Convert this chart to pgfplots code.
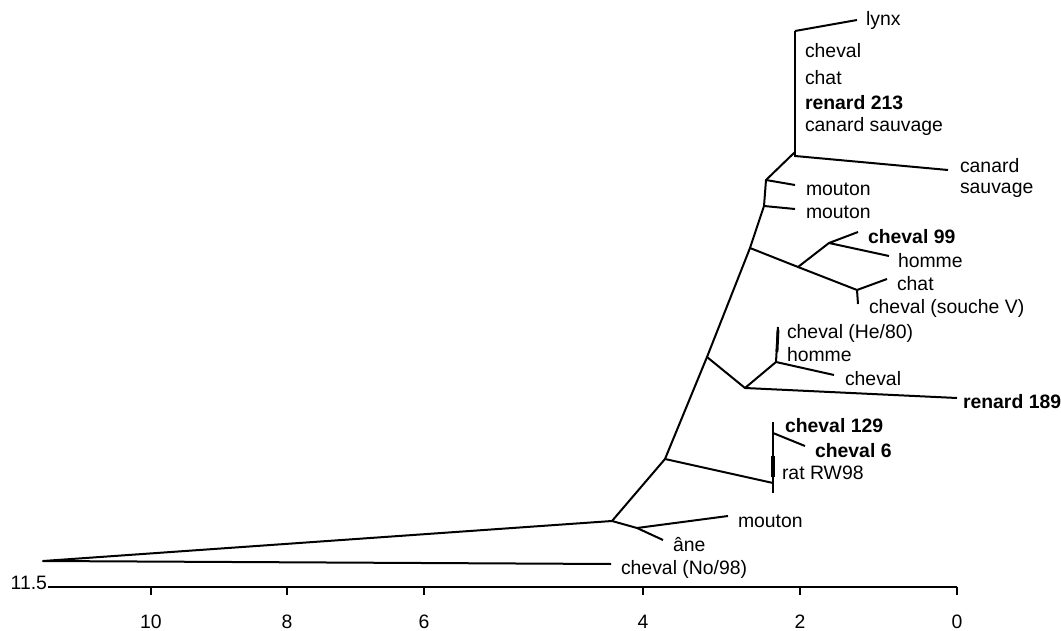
\documentclass[border=0pt]{standalone}
\usepackage{fontspec}
\setmainfont{Liberation Sans}
\usepackage{pgfplots}
\pgfplotsset{compat=1.18}
\tikzset{br/.style={black, line width=1pt, line join=round},
  lab/.style={font=\fontsize{9.7}{11.6}\selectfont, inner sep=0pt, outer sep=0pt, anchor=base west},
  blab/.style={lab, font=\fontsize{9.7}{11.6}\selectfont\bfseries}}
\begin{document}
\begin{tikzpicture}
\useasboundingbox (0,0) rectangle (530.5pt,315.5pt);
\begin{axis}[at={(0,0)}, anchor=south west, scale only axis,
  width=530.5pt, height=315.5pt,
  xmin=0, xmax=1061, ymin=0, ymax=631, y dir=reverse,
  hide axis, clip=false]
% trunk
\addplot[br] coordinates {(611,564) (43,561) (612,521) (665,459) (707,357) (750,248) (764,206) (766,180) (795,152)};
% top cluster
\addplot[black, line width=1.4pt] coordinates {(795,31) (795,157)};
\addplot[br] coordinates {(795,156) (948,170)};
\addplot[br] coordinates {(795,31) (857,20)};
\addplot[br] coordinates {(766,180) (795,185)};
\addplot[br] coordinates {(764,206) (795,209)};
% cheval 99 / homme / chat / souche V
\addplot[br] coordinates {(750,248) (798,267) (857,290)};
\addplot[br] coordinates {(798,267) (829,243)};
\addplot[br] coordinates {(858,232) (829,243) (889,256)};
\addplot[br] coordinates {(887,279) (857,290) (858,304)};
% He/80 cluster
\addplot[br] coordinates {(707,357) (745,388) (957,398)};
\addplot[br] coordinates {(745,388) (776,362) (834,375)};
\addplot[br] coordinates {(776,362) (778,327)};
\addplot[black, line width=1.4pt] coordinates {(778,330) (777,352)};
% cheval 129 cluster
\addplot[br] coordinates {(665,459) (773,483)};
\addplot[br] coordinates {(773,422) (773,493)};
\addplot[black, line width=1.6pt] coordinates {(773,456) (773,477)};
\addplot[br] coordinates {(773,433) (805,446)};
% mouton / ane
\addplot[br] coordinates {(612,521) (637,528) (728,516)};
\addplot[br] coordinates {(637,528) (663,540)};
% scale bar
\addplot[br] coordinates {(48,587) (957,587)};
\addplot[br] coordinates {(151,587) (151,595)};
\addplot[br] coordinates {(287,587) (287,595)};
\addplot[br] coordinates {(424,587) (424,595)};
\addplot[br] coordinates {(643,587) (643,595)};
\addplot[br] coordinates {(800,587) (800,595)};
\addplot[br] coordinates {(957,587) (957,595)};
% labels
\node[lab] at (axis cs:866,26) {lynx};
\node[lab] at (axis cs:805,58) {cheval};
\node[lab] at (axis cs:805,85) {chat};
\node[blab] at (axis cs:805,110) {renard 213};
\node[lab] at (axis cs:805,132) {canard sauvage};
\node[lab] at (axis cs:960,173) {canard};
\node[lab] at (axis cs:960,193) {sauvage};
\node[lab] at (axis cs:806,196) {mouton};
\node[lab] at (axis cs:806,219) {mouton};
\node[blab] at (axis cs:868,243) {cheval 99};
\node[lab] at (axis cs:898,267) {homme};
\node[lab] at (axis cs:897,290) {chat};
\node[lab] at (axis cs:869,313) {cheval (souche V)};
\node[lab] at (axis cs:787,338) {cheval (He/80)};
\node[lab] at (axis cs:787,361) {homme};
\node[lab] at (axis cs:845,385) {cheval};
\node[blab] at (axis cs:963,408) {renard 189};
\node[blab] at (axis cs:785,432) {cheval 129};
\node[blab] at (axis cs:815,457) {cheval 6};
\node[lab] at (axis cs:782,479) {rat RW98};
\node[lab] at (axis cs:738,527) {mouton};
\node[lab] at (axis cs:673,551) {âne};
\node[lab] at (axis cs:621,574) {cheval (No/98)};
\node[lab, anchor=base east] at (axis cs:47,589) {11.5};
\node[lab, anchor=base] at (axis cs:151,628) {10};
\node[lab, anchor=base] at (axis cs:287,628) {8};
\node[lab, anchor=base] at (axis cs:424,628) {6};
\node[lab, anchor=base] at (axis cs:643,628) {4};
\node[lab, anchor=base] at (axis cs:800,628) {2};
\node[lab, anchor=base] at (axis cs:957,628) {0};
\end{axis}
\end{tikzpicture}
\end{document}
